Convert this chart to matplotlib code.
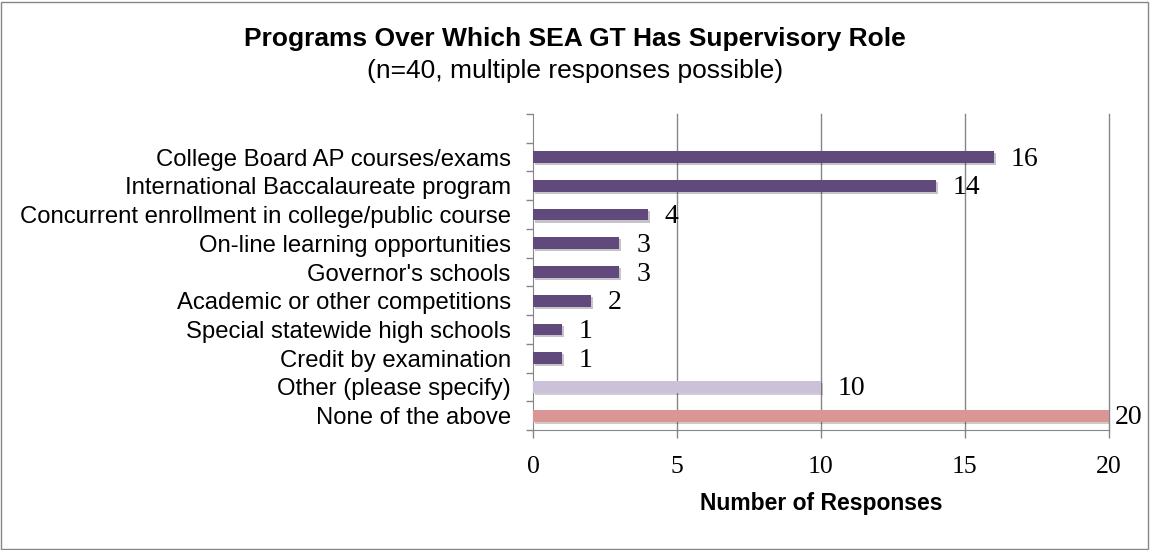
import matplotlib.pyplot as plt
import matplotlib.patheffects as pe
from matplotlib.patches import Rectangle

categories = [
    "College Board AP courses/exams",
    "International Baccalaureate program",
    "Concurrent enrollment in college/public course",
    "On-line learning opportunities",
    "Governor's schools",
    "Academic or other competitions",
    "Special statewide high schools",
    "Credit by examination",
    "Other (please specify)",
    "None of the above",
]
responses = [16, 14, 4, 3, 3, 2, 1, 1, 10, 20]
bar_colors = ["#604a7b"] * 8 + ["#ccc1da", "#d99694"]
x_ticks = [0, 5, 10, 15, 20]

sans = "Liberation Sans"
serif = "Liberation Serif"
axis_gray = "#868686"

fig = plt.figure(figsize=(11.5, 5.5), dpi=100)
ax = fig.add_axes([0.4635, 0.2182, 0.5008, 0.5745])

# first row at the top, with one empty slot above it
ypos = list(range(len(categories)))[::-1]
bars = ax.barh(ypos, responses, height=0.41, color=bar_colors, zorder=3)
for b in bars:
    b.set_path_effects([pe.SimplePatchShadow(offset=(1.5, -1.5), alpha=0.25), pe.Normal()])

xmax = x_ticks[-1]
for y, v in zip(ypos, responses):
    # a bar that reaches the right edge gets its label pulled in so it stays on the figure
    dx = 4 if v >= xmax else 12
    ax.annotate(str(v), (v, y), xytext=(dx, -1.5), textcoords="offset points",
                va="center", ha="left", fontsize=20, family=serif, color="black",
                annotation_clip=False)

ax.set_xlim(0, xmax)
ax.set_ylim(-0.5, len(categories) + 0.5)
ax.set_xticks(x_ticks)
ax.set_xticklabels([str(t) for t in x_ticks], family=serif, fontsize=18.5)
ax.set_yticks(ypos)
ax.set_yticklabels(categories, family=sans, fontsize=17.2)
ax.set_yticks([y - 0.5 for y in range(len(categories) + 2)], minor=True)
ax.tick_params(axis="y", which="major", length=0, pad=16)
ax.tick_params(axis="y", which="minor", length=5, color=axis_gray, width=1)
ax.tick_params(axis="x", length=6, color=axis_gray, width=1, pad=13, direction="out")

# vertical gridlines, the last one sits on the right edge of the axes
for t in x_ticks[1:]:
    ax.axvline(t, color=axis_gray, linewidth=1, zorder=0, clip_on=False)
for s in ["top", "right"]:
    ax.spines[s].set_visible(False)
ax.spines["left"].set_color(axis_gray)
ax.spines["bottom"].set_color(axis_gray)

ax.set_xlabel("Number of Responses", family=sans, fontsize=16.5, fontweight="bold", labelpad=10)

fig.text(0.5, 0.9164, "Programs Over Which SEA GT Has Supervisory Role", ha="center", va="baseline",
         family=sans, fontsize=19, fontweight="bold")
fig.text(0.5, 0.858, "(n=40, multiple responses possible)", ha="center", va="baseline",
         family=sans, fontsize=19)

fig.patches.append(Rectangle((0.001, 0.002), 0.997, 0.995, transform=fig.transFigure,
                             fill=False, edgecolor=axis_gray, linewidth=1))

fig.savefig("out.png", dpi=100)
